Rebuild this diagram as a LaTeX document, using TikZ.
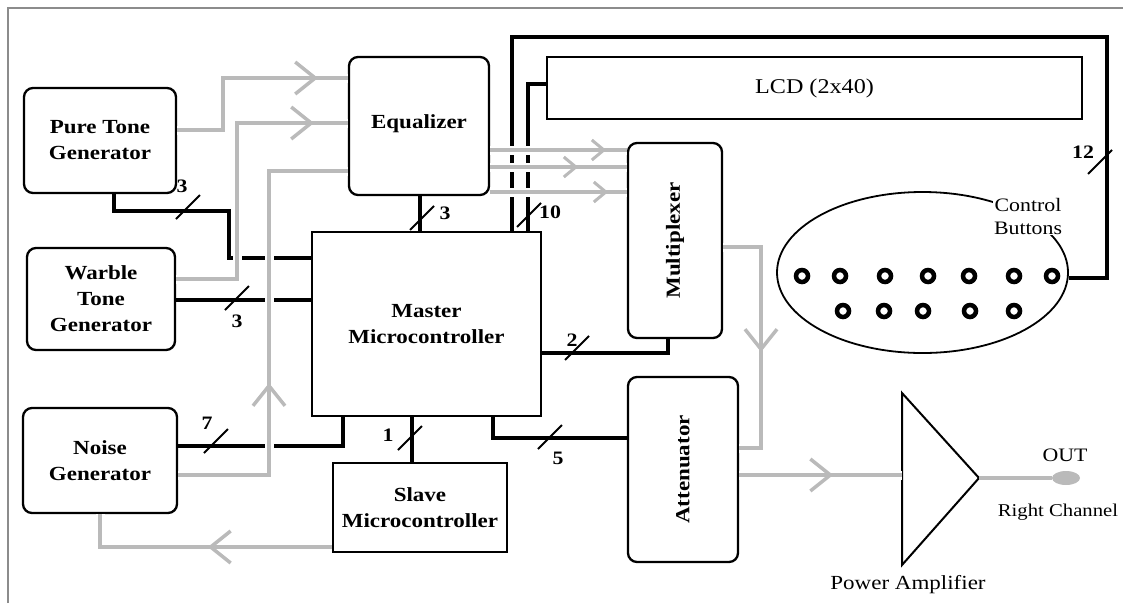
\documentclass[tikz,border=0pt]{standalone}
\usepackage{fontspec}
\setmainfont{Liberation Serif}[FakeStretch=1.15]
\usetikzlibrary{arrows.meta,decorations.markings,shapes.geometric}

\tikzset{
  blk/.style={draw, line width=2.3pt, rounded corners=9pt, inner sep=0pt,
    align=center, font=\bfseries\fontsize{20}{26}\selectfont},
  sqblk/.style={blk, sharp corners},
  bus/.style={line width=4.5pt},
  sig/.style={color=black!27, line width=4pt, preaction={draw=white, line width=9pt}},
  tick/.style={line width=2pt},
  wnum/.style={font=\bfseries\fontsize{19}{19}\selectfont, inner sep=0pt},
  plain/.style={font=\fontsize{19}{23}\selectfont, inner sep=1pt, align=center},
  bigtip/.style={postaction={decorate}, decoration={markings,
    mark=at position #1 with {\arrow{Straight Barb[length=20pt,width=32pt,line width=3.5pt]}}}},
  smalltip/.style={postaction={decorate}, decoration={markings,
    mark=at position #1 with {\arrow{Straight Barb[length=12pt,width=20pt,line width=3pt]}}}},
  btn/.style={line width=4.5pt}
}

\begin{document}
\begin{tikzpicture}[x=1pt,y=-1pt]
  \useasboundingbox (0,0) rectangle (1123,603);
  \draw[black!45, line width=2pt] (8,603) -- (8,8) -- (1123,8);

  % blocks
  \node[blk, minimum width=152, minimum height=105] (pure) at (100,140.5) {Pure Tone\\Generator};
  \node[blk, minimum width=148, minimum height=102] (warble) at (101,299) {Warble\\Tone\\Generator};
  \node[blk, minimum width=154, minimum height=105] (noise) at (100,460.5) {Noise\\Generator};
  \node[blk, minimum width=140, minimum height=138, text depth=8pt] (eq) at (419,126) {Equalizer};
  \node[sqblk, minimum width=229, minimum height=184] (master) at (426.5,324) {Master\\Microcontroller};
  \node[sqblk, minimum width=174, minimum height=89] (slave) at (420,507.5) {Slave\\Microcontroller};
  \node[sqblk, minimum width=535, minimum height=62, font=\fontsize{21}{24}\selectfont] (lcd) at (814.5,88) {LCD (2x40)};
  \node[blk, minimum width=94, minimum height=195] (mux) at (675,240.5) {\rotatebox{90}{Multiplexer}};
  \node[blk, minimum width=110, minimum height=185] (att) at (683,469.5) {\rotatebox{90}{Attenuator}};
  \node[draw, ellipse, line width=1.8pt, minimum width=291, minimum height=161, inner sep=0pt] (btns) at (922.5,272.5) {};
  \node[plain, fill=white] (btnlbl) at (1028,216) {Control\\Buttons};
  \node[draw, ellipse, fill=black!27, draw=none, minimum width=28, minimum height=14] (jack) at (1066,478) {};

  % power amplifier
  \draw[line width=2pt] (902,393) -- (979,478) coordinate (amptip) -- (902,565) -- cycle;
  \coordinate (ampin) at (902,475);
  \node[plain, font=\fontsize{20}{22}\selectfont] (amplbl) at (908,585) {Power Amplifier};
  \node[plain] (outlbl) at (1065,455) {OUT};
  \node[plain, font=\fontsize{18}{20}\selectfont] (chlbl) at (1058,512) {Right Channel};

  % buttons
  \foreach \x in {802,840,885,928,969,1014,1052}
    \draw[btn] (\x,276) circle (6);
  \foreach \x in {843,884,923,970,1014}
    \draw[btn] (\x,311) circle (6);

  % data buses
  \draw[bus] (pure.south -| 114,0) |- (229,211) |- (master.west |- 0,258);
  \draw[bus] (warble.east |- 0,300) -- (master.west |- 0,300);
  \draw[bus] (noise.east |- 0,446) -| (master.south -| 343,0);
  \draw[bus] (eq.south -| 420,0) -- (master.north -| 420,0);
  \draw[bus] (master.south -| 412,0) -- (slave.north -| 412,0);
  \draw[bus] (master.south -| 493,0) |- (att.west |- 0,438);
  \draw[bus] (master.east |- 0,353) -| (mux.south -| 668,0);
  \draw[bus] (lcd.west |- 0,84) -| (master.north -| 528,0);
  \draw[bus] (master.north -| 512,0) |- (1107,37) |- (btns.east |- 0,278);

  % analog signals
  \draw[sig] (pure.east |- 0,130) -| (223,78) coordinate (k1) -- (eq.west |- 0,78);
  \path[black!27, bigtip=95pt] (k1) -- (eq.west |- k1);
  \draw[sig] (warble.east |- 0,279) -| (237,123) coordinate (k2) -- (eq.west |- 0,123);
  \path[black!27, bigtip=77pt] (k2) -- (eq.west |- k2);
  \draw[sig] (noise.east |- 0,475) -| (269,171) coordinate (k3) -- (eq.west |- 0,171);
  \path[black!27, bigtip=92pt] (269,475) -- (k3);
  \foreach \y/\p in {150/116pt,167/88pt,192/118pt}{
    \draw[sig] (eq.east |- 0,\y) -- (mux.west |- 0,\y);
    \path[black!27, smalltip=\p] (eq.east |- 0,\y) -- (mux.west |- 0,\y);
  }
  \draw[sig] (mux.east |- 0,247) -| (761,448) coordinate (k4) -- (att.east |- 0,448);
  \path[black!27, bigtip=105pt] (761,247) -- (k4);
  \draw[sig] (att.east |- 0,475) -- (ampin);
  \path[black!27, bigtip=94pt] (att.east |- 0,475) -- (ampin);
  \draw[sig] (amptip) -- (jack);
  \draw[sig] (slave.west |- 0,547) -| (noise.south) coordinate (k5);
  \path[black!27, bigtip=124pt] (slave.west |- 0,547) -- (k5 |- 0,547);

  % bus widths
  \foreach \x/\y/\n/\lx/\ly [count=\i] in {188/207/3/182/186, 237/298/3/237/321,
      216/441/7/207/423, 422/218/3/445/213, 410/438/1/388/435, 550/437/5/558/458,
      577/348/2/572/340, 529/215/10/550/212, 1100/162/12/1083/152}{
    \draw[tick] (\x-12,\y+12) -- (\x+12,\y-12);
    \node[wnum] (w\i) at (\lx,\ly) {\n};
  }
\end{tikzpicture}
\end{document}
